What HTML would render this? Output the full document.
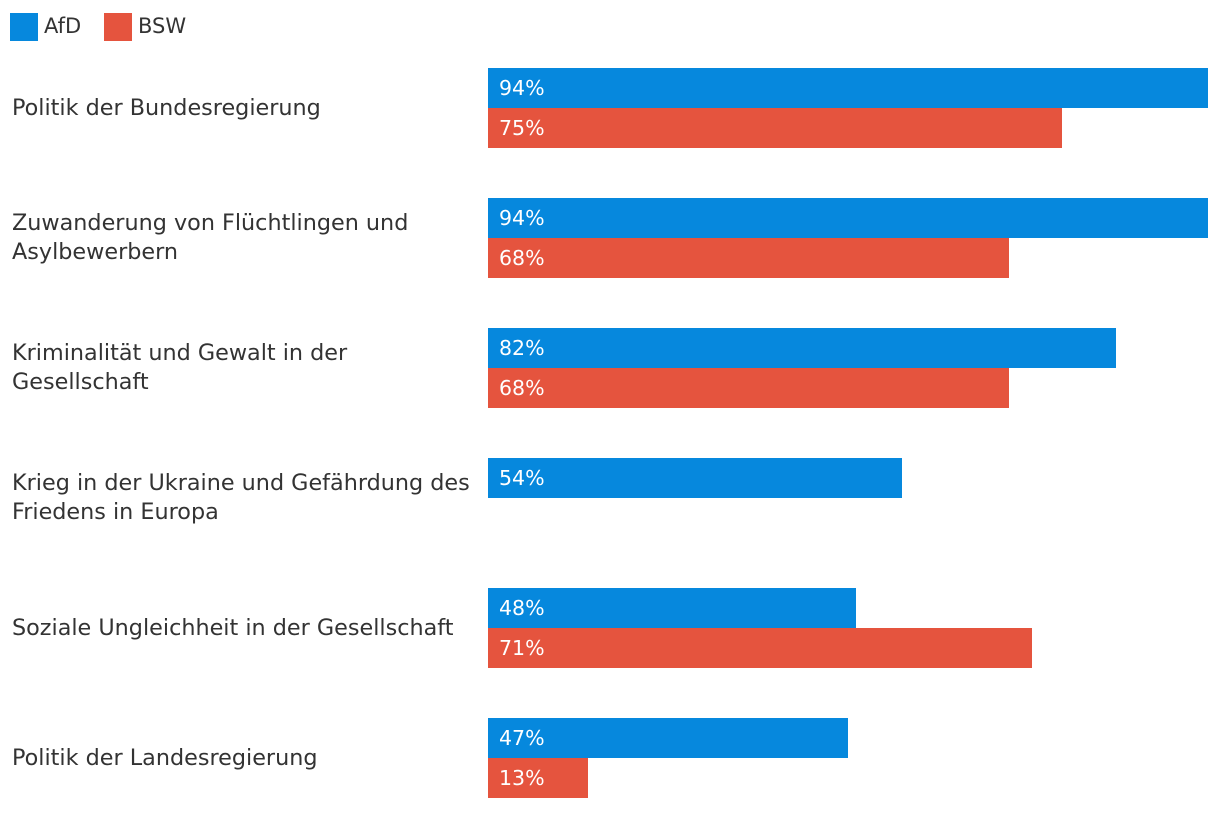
<!DOCTYPE html>
<html><head><meta charset="utf-8"><style>
body{margin:0;width:1220px;height:810px;background:#fff;font-family:"DejaVu Sans","Liberation Sans",sans-serif;overflow:hidden;position:relative}
.lg{position:absolute;top:13px;width:28px;height:28px}
.lt{position:absolute;top:12px;font-size:21px;color:#333;line-height:28px}
.cat{position:absolute;left:12px;width:466px;font-size:22.3px;color:#333;line-height:29px;display:flex;align-items:center;height:130px}
.bar{position:absolute;height:40px;color:#fff;font-size:20.5px;line-height:40px;box-sizing:border-box;padding-left:11px;white-space:nowrap}
</style></head><body>
<div class="lg" style="left:10px;background:#0688dd"></div>
<div class="lt" style="left:44px">AfD</div>
<div class="lg" style="left:104px;background:#e5543e"></div>
<div class="lt" style="left:138px">BSW</div>
<div id="chart"></div>
<script>
const categories=["Politik der Bundesregierung","Zuwanderung von Flüchtlingen und Asylbewerbern","Kriminalität und Gewalt in der Gesellschaft","Krieg in der Ukraine und Gefährdung des Friedens in Europa","Soziale Ungleichheit in der Gesellschaft","Politik der Landesregierung"];
const afd=[94,94,82,54,48,47];
const bsw=[75,68,68,null,71,13];
const x0=488,scale=720/94,top0=68,groupH=130,barH=40;
function xw(v){return v*scale;}
const c=document.getElementById('chart');
categories.forEach((cat,i)=>{
  const gy=top0+i*groupH;
  const l=document.createElement('div');
  l.className='cat';l.style.top=(gy-25)+'px';l.textContent=cat;
  
  
  c.appendChild(l);
  [[afd[i],'#0688dd',0,'bar-afd'],[bsw[i],'#e5543e',1,'bar-bsw']].forEach(([v,col,k,nm])=>{
    if(v==null)return;
    const b=document.createElement('div');
    b.className='bar';b.style.left=x0+'px';b.style.top=(gy+k*barH)+'px';
    b.style.width=xw(v)+'px';b.style.background=col;b.textContent=v+'%';
    
    
    c.appendChild(b);
  });
});
</script>
</body></html>
